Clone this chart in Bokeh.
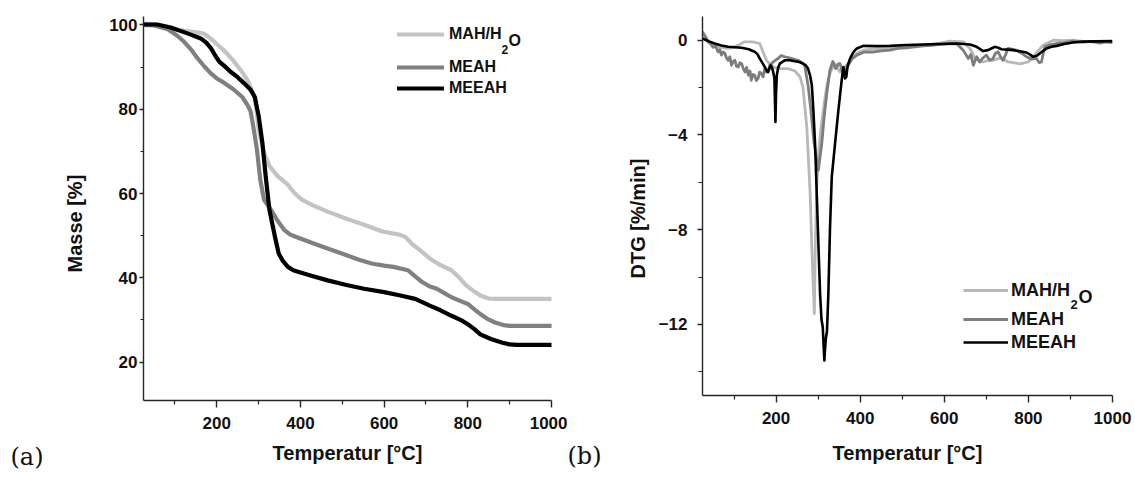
from bokeh.plotting import figure
from bokeh.layouts import row
from bokeh.models import FixedTicker, Legend, LegendItem, Label, Range1d, Title
from bokeh.embed import file_html
from bokeh.resources import INLINE

# ---------------- data: TG (panel a) ----------------
tg_mah_t = [25, 50, 74, 110, 138, 161, 170, 185, 202, 220, 239, 258, 274, 285, 291, 296, 300, 306, 313, 326,
            345, 370, 385, 404, 430, 465, 510, 552, 596, 639, 652, 665, 690, 709, 735, 761, 780, 796, 815,
            830, 850, 865, 900, 950, 1000]
tg_mah_v = [100.3, 100.2, 99.6, 98.8, 98.4, 98.1, 97.9, 96.8, 95.3, 93.7, 91.6, 89.2, 86.8, 84.3, 82.5, 79.0,
            75.3, 72.5, 69.7, 66.5, 64.2, 62.1, 60.2, 58.5, 57.2, 55.7, 54.0, 52.6, 51.0, 50.2, 49.6, 48.2,
            46.2, 44.6, 43.0, 41.8, 40.0, 38.2, 36.8, 35.8, 35.1, 35.0, 35.0, 35.0, 35.0]

tg_meah_t = [25, 50, 83, 105, 122, 140, 154, 170, 186, 200, 217, 239, 261, 274, 281, 287, 296, 304, 313, 330,
             345, 361, 375, 387, 430, 470, 509, 540, 570, 600, 622, 657, 675, 691, 708, 726, 745, 761, 780,
             800, 815, 830, 848, 865, 885, 900, 950, 1000]
tg_meah_v = [100.0, 99.9, 99.0, 97.5, 96.0, 94.0, 92.1, 90.2, 88.5, 87.3, 86.3, 84.8, 82.9, 80.9, 79.5, 76.1,
             70.5, 63.3, 58.5, 56.1, 53.6, 51.4, 50.3, 49.8, 48.2, 46.8, 45.4, 44.3, 43.4, 42.9, 42.6, 41.8,
             40.3, 39.0, 38.0, 37.4, 36.3, 35.4, 34.6, 33.8, 32.6, 31.4, 30.2, 29.4, 28.8, 28.6, 28.6, 28.6]

tg_meeah_t = [25, 58, 90, 130, 162, 175, 186, 196, 206, 220, 233, 250, 265, 281, 291, 300, 309, 317, 326, 339,
              348, 358, 370, 383, 396, 430, 465, 510, 552, 600, 639, 674, 690, 709, 735, 761, 785, 800, 815,
              830, 855, 883, 900, 917, 1000]
tg_meeah_v = [100.1, 100.1, 99.4, 98.0, 96.8, 95.8, 94.5, 92.8, 91.3, 90.1, 88.9, 87.6, 86.2, 84.6, 82.9, 78.5,
              72.1, 64.1, 56.1, 49.8, 45.8, 44.0, 42.6, 41.8, 41.4, 40.4, 39.4, 38.3, 37.4, 36.6, 35.8, 35.0,
              34.3, 33.4, 32.3, 31.0, 29.9, 29.0, 27.9, 26.6, 25.5, 24.6, 24.2, 24.1, 24.1]

# ---------------- data: DTG (panel b) ----------------
dtg_mah_t = [25, 30, 38, 50, 62, 75, 86, 98, 110, 125, 145, 161, 169, 177, 185, 195, 210, 228, 245, 257, 264,
             273, 281, 286, 291, 293, 296, 300, 306, 315, 322, 330, 340, 352, 365, 380, 392, 407, 430, 471, 510,
             550, 590, 613, 645, 661, 673, 685, 692, 705, 716, 730, 740, 752, 764, 780, 800, 811, 823, 835, 859,
             880, 906, 930, 960, 1000]
dtg_mah_v = [0.35, 0.2, 0.0, -0.15, -0.28, -0.32, -0.35, -0.3, -0.21, -0.07, -0.07, -0.14, -0.49, -0.85, -1.0,
             -1.15, -1.2, -1.2, -1.3, -1.55, -2.0, -3.66, -6.48, -9.3, -11.55, -9.0, -6.5, -5.0, -3.8, -2.6,
             -1.8, -1.3, -1.0, -1.34, -1.1, -0.8, -0.56, -0.42, -0.38, -0.35, -0.28, -0.21, -0.12, -0.04,
             -0.07, -0.35, -0.77, -0.9, -0.92, -0.85, -0.85, -0.77, -0.8, -0.92, -0.95, -1.0, -0.92, -0.7,
             -0.45, -0.21, 0.0, -0.02, 0.0, -0.05, -0.08, -0.1]

dtg_meah_t = [25, 32, 38, 44, 50, 56, 62, 66, 70, 74, 78, 82, 86, 90, 94, 98, 102, 106, 110, 114, 118, 122,
              126, 130, 134, 138, 141, 145, 149, 153, 157, 161, 165, 169, 173, 177, 180, 185, 193, 205, 212,
              221, 236, 252, 262, 268, 276, 283, 290, 296, 300.6, 304, 308.6, 314, 320.5, 328, 335, 342, 348,
              352, 360, 370, 380, 392, 410, 430, 450, 471, 490, 510, 530, 550, 570, 590, 610, 629, 645, 657,
              663, 669, 677, 684.5, 692, 700, 708, 716, 722, 728, 734, 740, 746, 751.6, 760, 771, 784, 795.6,
              808, 819, 826, 831, 839, 850, 867, 885, 906, 930, 950, 970, 985, 1000]
dtg_meah_v = [0.35, 0.15, -0.07, -0.15, -0.3, -0.25, -0.49, -0.4, -0.63, -0.5, -0.55, -0.75, -0.85, -0.7,
              -1.06, -0.9, -0.85, -1.1, -1.13, -0.95, -0.99, -1.2, -1.34, -1.15, -1.48, -1.3, -1.69, -1.45,
              -1.48, -1.7, -1.62, -1.35, -1.41, -1.55, -1.2, -1.35, -1.35, -1.06, -0.92, -0.77, -0.65, -0.7,
              -0.77, -0.85, -0.95, -1.06, -1.9, -3.0, -4.3, -5.0, -5.49, -5.0, -4.37, -3.3, -2.25, -1.27, -0.9,
              -1.2, -1.0, -0.99, -1.5, -1.1, -0.8, -0.63, -0.5, -0.5, -0.45, -0.42, -0.35, -0.32, -0.28, -0.24,
              -0.22, -0.18, -0.15, -0.14, -0.42, -0.77, -0.6, -1.06, -0.7, -0.92, -0.75, -0.63, -0.85, -0.77,
              -0.55, -0.49, -0.7, -0.85, -0.6, -0.35, -0.38, -0.42, -0.55, -0.7, -0.8, -0.77, -0.95, -0.92,
              -0.28, -0.2, -0.14, -0.1, -0.04, -0.08, -0.05, -0.12, -0.06, -0.1]

dtg_meeah_t = [25, 40, 54, 70, 86, 100, 118, 135, 149, 156, 161, 167, 173, 178, 181, 185, 187.5, 191, 193, 196,
               198.5, 200, 201.7, 205, 208.8, 220.7, 232, 244.5, 255, 264, 270, 276, 281, 285, 288.7, 292.7,
               296.7, 300.6, 304.6, 308, 311, 313, 314.8, 316.5, 318.8, 321, 324.3, 328.3, 332.4, 340.2, 348.1,
               356, 360, 362, 364, 367, 370, 376, 384, 392, 407.5, 440, 471, 510, 550, 590, 629, 661, 677,
               692.5, 704, 712, 720, 728, 736, 750, 763.7, 780, 795.6, 805, 811, 820, 827, 835, 843, 855, 867,
               885, 906, 930, 960, 1000]
dtg_meeah_v = [0.07, -0.05, -0.14, -0.22, -0.28, -0.3, -0.32, -0.38, -0.49, -0.6, -0.77, -0.95, -1.13, -1.3,
               -1.34, -1.15, -1.06, -1.2, -1.34, -1.6, -3.45, -2.2, -1.48, -1.15, -0.99, -0.85, -0.85, -0.89,
               -0.92, -0.99, -1.05, -1.2, -1.5, -1.9, -2.96, -4.37, -6.48, -8.6, -10.7, -11.8, -12.11, -12.9,
               -13.52, -13.0, -12.53, -12.3, -10.7, -7.89, -5.77, -4.37, -2.96, -1.69, -1.13, -1.3, -1.62,
               -1.55, -1.1, -0.77, -0.5, -0.35, -0.24, -0.25, -0.24, -0.2, -0.18, -0.16, -0.14, -0.18, -0.28,
               -0.46, -0.42, -0.35, -0.28, -0.32, -0.38, -0.4, -0.42, -0.47, -0.52, -0.62, -0.7, -0.66, -0.56,
               -0.45, -0.35, -0.28, -0.24, -0.16, -0.1, -0.06, -0.05, -0.04]

x_ticks = [200, 400, 600, 800, 1000]
x_minor = [100, 300, 500, 700, 900]
tg_ticks = [20, 40, 60, 80, 100]
tg_minor = [30, 50, 70, 90]
dtg_ticks = [-12, -8, -4, 0]
dtg_minor = [-14, -10, -6, -2]

labels = ["MAH/H", "MEAH", "MEEAH"]
panel_tags = ["(a)", "(b)"]
y_titles = ["Masse [%]", "DTG [%/min]"]
x_title = "Temperatur [°C]"
colors = ["#c3c3c3", "#808080", "#000000"]
colors_b = ["#b8b8b8", "#7d7d7d", "#000000"]

FONT = "Liberation Sans"
AX = "#262626"


def style(p, ytick_out, ystandoff, xstandoff, xlab_standoff):
    p.outline_line_color = None
    p.xgrid.visible = False
    p.ygrid.visible = False
    p.background_fill_color = "white"
    p.border_fill_color = "white"
    for ax in (p.xaxis[0], p.yaxis[0]):
        ax.axis_line_width = 1.4
        ax.axis_line_color = AX
        ax.major_tick_line_color = AX
        ax.minor_tick_line_color = AX
        ax.major_tick_line_width = 1.4
        ax.minor_tick_line_width = 1.2
        ax.major_tick_in = 0
        ax.minor_tick_in = 0
        ax.major_label_text_font = FONT
        ax.major_label_text_font_style = "bold"
        ax.major_label_text_font_size = "17px"
        ax.major_label_text_color = "#111111"
        ax.axis_label_text_font = FONT
        ax.axis_label_text_font_style = "bold"
        ax.axis_label_text_font_size = "20px"
        ax.axis_label_text_color = "#111111"
    p.xaxis.major_tick_out = 7
    p.xaxis.minor_tick_out = 4
    p.xaxis.major_label_standoff = xstandoff
    p.xaxis.axis_label_standoff = xlab_standoff
    p.yaxis.major_tick_out = ytick_out
    p.yaxis.minor_tick_out = ytick_out - 1
    p.yaxis.major_label_standoff = ystandoff


def add_legend(p, rend, text, x, y, size, gw, standoff):
    lg = Legend(items=[LegendItem(label=text, renderers=[rend])], location=(x, y),
                orientation="vertical", glyph_width=gw, glyph_height=24, label_height=24,
                label_standoff=standoff, padding=0, margin=0, spacing=0,
                border_line_color=None, background_fill_alpha=0,
                label_text_font=FONT, label_text_font_style="bold",
                label_text_font_size=size, label_text_color="#111111")
    p.add_layout(lg)


def add_text(p, text, x, y, size):
    p.add_layout(Label(x=x, y=y, x_units="screen", y_units="screen", text=text,
                       text_font=FONT, text_font_style="bold", text_font_size=size,
                       text_color="#111111", text_baseline="alphabetic", text_align="left"))


def add_tag(p, text, offset, standoff):
    p.add_layout(Title(text=text, align="left", vertical_align="top", offset=offset, standoff=standoff,
                       text_font="DejaVu Serif", text_font_style="normal", text_font_size="24px",
                       text_color="#111111"), "below")


def add_ytitle(p, text, offset, standoff):
    p.add_layout(Title(text=text, align="left", vertical_align="bottom", offset=offset, standoff=standoff,
                       text_font=FONT, text_font_style="bold", text_font_size="20px",
                       text_color="#111111"), "left")


# ---------------- panel a ----------------
p1 = figure(frame_width=408, frame_height=384, output_backend="svg", toolbar_location=None,
            x_range=Range1d(25, 1000), y_range=Range1d(10.9, 102),
            min_border_left=143, min_border_right=16, min_border_top=15, min_border_bottom=79,
            x_axis_label=x_title)
style(p1, 4, 2, 9, 10)
p1.xaxis.ticker = FixedTicker(ticks=x_ticks, minor_ticks=x_minor)
p1.yaxis.ticker = FixedTicker(ticks=tg_ticks, minor_ticks=tg_minor)
add_ytitle(p1, y_titles[0], 128, 41)

ra = []
for t, v, c in [(tg_mah_t, tg_mah_v, colors[0]), (tg_meah_t, tg_meah_v, colors[1]),
                (tg_meeah_t, tg_meeah_v, colors[2])]:
    ra.append(p1.line(t, v, line_color=c, line_width=4.2, line_join="round", line_cap="round"))

add_legend(p1, ra[0], labels[0], 254, 354, "16px", 47, 5)
add_legend(p1, ra[1], labels[1], 254, 321, "16px", 47, 5)
add_legend(p1, ra[2], labels[2], 254, 300, "16px", 47, 5)
add_text(p1, "2", 358, 351, "12px")
add_text(p1, "O", 365, 360, "16px")
add_tag(p1, panel_tags[0], -133, -48)

# ---------------- panel b ----------------
p2 = figure(frame_width=410, frame_height=379, output_backend="svg", toolbar_location=None,
            x_range=Range1d(25, 1000), y_range=Range1d(-15, 1),
            min_border_left=135, min_border_right=23, min_border_top=16, min_border_bottom=83,
            x_axis_label=x_title)
style(p2, 5, 10, 9, 15)
p2.xaxis.ticker = FixedTicker(ticks=x_ticks, minor_ticks=x_minor)
p2.yaxis.ticker = FixedTicker(ticks=dtg_ticks, minor_ticks=dtg_minor)
add_ytitle(p2, y_titles[1], 117, 14)

rb = []
for t, v, c, w in [(dtg_mah_t, dtg_mah_v, colors_b[0], 2.8), (dtg_meah_t, dtg_meah_v, colors_b[1], 2.8),
                   (dtg_meeah_t, dtg_meeah_v, colors_b[2], 2.6)]:
    rb.append(p2.line(t, v, line_color=c, line_width=w, line_join="round"))

add_legend(p2, rb[0], labels[0], 261, 93, "18px", 45, 3)
add_legend(p2, rb[1], labels[1], 261, 64, "18px", 45, 3)
add_legend(p2, rb[2], labels[2], 261, 41, "18px", 45, 3)
add_text(p2, "2", 368, 91, "13px")
add_text(p2, "O", 376, 99, "18px")
add_tag(p2, panel_tags[1], -135, -50)

layout = row(p1, p2, width=1135, height=478, styles={"overflow": "hidden"})
open("out.html", "w").write(file_html(layout, INLINE))
